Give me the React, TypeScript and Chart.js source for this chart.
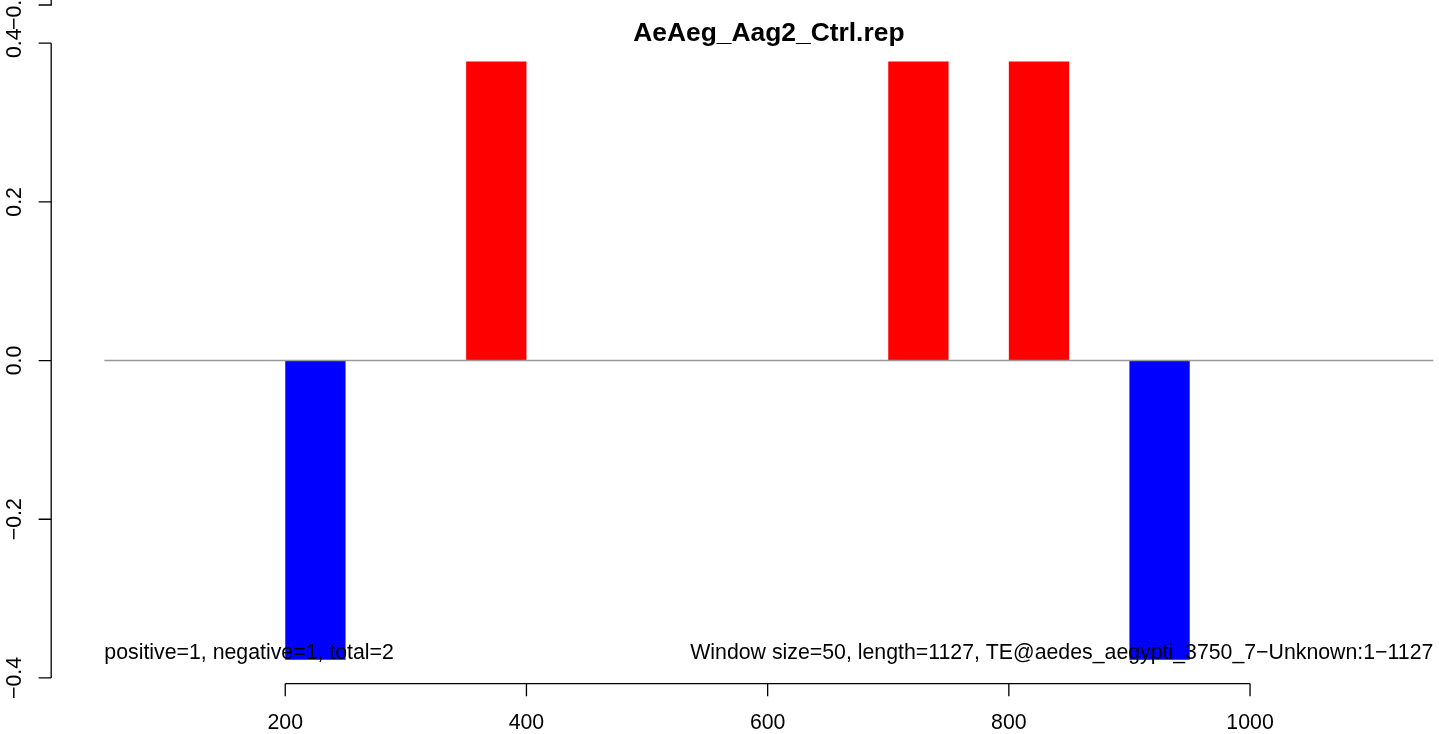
import React, { useEffect, useRef } from "react";
import { Chart, registerables } from "chart.js";

Chart.register(...registerables);

// ---------------- data ----------------
const TITLE = "AeAeg_Aag2_Ctrl.rep";
const WINDOW_SIZE = 50;
const windowStarts = [0, 50, 100, 150, 200, 250, 300, 350, 400, 450, 500, 550, 600, 650, 700, 750, 800, 850, 900, 950, 1000, 1050, 1100];
const windowValues = [0, 0, 0, 0, -0.377, 0, 0, 0.377, 0, 0, 0, 0, 0, 0, 0.377, 0, 0.377, 0, -0.377, 0, 0, 0, 0];
const baselineRange = [50, 1152];
const xTickValues = [200, 400, 600, 800, 1000];
const xTickLabels = ["200", "400", "600", "800", "1000"];
const yTickValues = [-0.4, -0.2, 0, 0.2, 0.4];
const yTickLabels = ["\u22120.4", "\u22120.2", "0.0", "0.2", "0.4"];
const leftNote = "positive=1, negative=1, total=2";
const rightNote = "Window size=50, length=1127, TE@aedes_aegypti_3750_7\u2212Unknown:1\u22121127";
const xLimits = [50, 1152];
const yMaxAbs = 0.377;

// ---------------- styling ----------------
const FONT = '"Liberation Sans", Arial, Helvetica, sans-serif';
const CANVAS_W = 1530;
const CANVAS_H = 734;
const POS_COLOR = "#ff0000";
const NEG_COLOR = "#0000ff";

const xExt = (xLimits[1] - xLimits[0]) * 0.04;
const X_MIN = xLimits[0] - xExt;
const X_MAX = xLimits[1] + xExt;
const Y_MIN = -yMaxAbs * 1.08;
const Y_MAX = yMaxAbs * 1.08;

const rPlotPlugin = {
  id: "rPlot",
  afterDraw(chart: any) {
    const { ctx, chartArea } = chart;
    const xs = chart.scales.x;
    const ys = chart.scales.y;
    const tick = 12.6;
    ctx.save();
    ctx.fillStyle = "#000";
    ctx.strokeStyle = "#000";
    ctx.lineWidth = 1.3;
    ctx.lineCap = "butt";

    // title
    ctx.font = `bold 26.4px ${FONT}`;
    ctx.textAlign = "center";
    ctx.textBaseline = "alphabetic";
    ctx.fillText(TITLE, (chartArea.left + chartArea.right) / 2, 40.5);

    // x axis
    const ay = chartArea.bottom;
    const xt = xs.ticks;
    ctx.beginPath();
    ctx.moveTo(xs.getPixelForTick(0), ay);
    ctx.lineTo(xs.getPixelForTick(xt.length - 1), ay);
    for (let i = 0; i < xt.length; i++) {
      const px = xs.getPixelForTick(i);
      ctx.moveTo(px, ay);
      ctx.lineTo(px, ay + tick);
    }
    ctx.stroke();
    ctx.font = `21.3px ${FONT}`;
    ctx.textAlign = "center";
    for (let i = 0; i < xt.length; i++) {
      ctx.fillText(xTickLabels[i], xs.getPixelForTick(i), 728.5);
    }

    // y axis
    const ax = chartArea.left;
    const yt = ys.ticks;
    ctx.beginPath();
    ctx.moveTo(ax, ys.getPixelForTick(0));
    ctx.lineTo(ax, ys.getPixelForTick(yt.length - 1));
    for (let i = 0; i < yt.length; i++) {
      const py = ys.getPixelForTick(i);
      ctx.moveTo(ax, py);
      ctx.lineTo(ax - tick, py);
    }
    // remnant of the neighbouring panel's axis above
    ctx.moveTo(ax, 0);
    ctx.lineTo(ax, 5);
    ctx.lineTo(ax - tick, 5);
    ctx.stroke();
    for (let i = 0; i < yt.length; i++) {
      ctx.save();
      ctx.translate(21, ys.getPixelForTick(i));
      ctx.rotate(-Math.PI / 2);
      ctx.textAlign = "center";
      ctx.fillText(yTickLabels[i], 0, 0);
      ctx.restore();
    }
    ctx.save();
    ctx.translate(21, 30);
    ctx.rotate(-Math.PI / 2);
    ctx.textAlign = "left";
    ctx.fillText(yTickLabels[0], 0, 0);
    ctx.restore();

    // notes
    const ny = ys.getPixelForValue(-yMaxAbs) - 0.5;
    ctx.textAlign = "left";
    ctx.fillText(leftNote, xs.getPixelForValue(xLimits[0]), ny);
    ctx.textAlign = "right";
    ctx.fillText(rightNote, xs.getPixelForValue(xLimits[1]), ny);

    ctx.restore();
  },
};

export default function App() {
  const ref = useRef<HTMLCanvasElement>(null);
  useEffect(() => {
    const canvas = ref.current!;
    const chart = new Chart(canvas, {
      type: "bar",
      data: {
        datasets: [
          {
            type: "line",
            label: "baseline",
            data: baselineRange.map((x) => ({ x, y: 0 })),
            borderColor: "#999999",
            borderWidth: 1.5,
            pointRadius: 0,
            order: 0,
          } as any,
          {
            type: "bar",
            label: "windows",
            data: windowStarts.map((s, i) => ({
              x: s + WINDOW_SIZE / 2,
              y: windowValues[i] === 0 ? null : windowValues[i],
            })),
            backgroundColor: windowValues.map((v) => (v > 0 ? POS_COLOR : NEG_COLOR)),
            borderWidth: 0,
            barPercentage: 1,
            categoryPercentage: 1,
            inflateAmount: 0,
            order: 1,
          } as any,
        ],
      },
      options: {
        responsive: false,
        animation: false,
        devicePixelRatio: 1,
        events: [],
        layout: {
          padding: { left: 51.2, top: 37.5, right: CANVAS_W - 1486.5, bottom: CANVAS_H - 683.6 },
        },
        plugins: {
          legend: { display: false },
          tooltip: { enabled: false },
          title: { display: false },
        },
        scales: {
          x: {
            type: "linear",
            min: X_MIN,
            max: X_MAX,
            offset: false,
            display: false,
            afterBuildTicks: (scale: any) => {
              scale.ticks = xTickValues.map((value) => ({ value }));
            },
          },
          y: {
            type: "linear",
            min: Y_MIN,
            max: Y_MAX,
            display: false,
            afterBuildTicks: (scale: any) => {
              scale.ticks = yTickValues.map((value) => ({ value }));
            },
          },
        },
      } as any,
      plugins: [rPlotPlugin],
    });
    return () => chart.destroy();
  }, []);

  return (
    <div
      style={{
        position: "fixed",
        left: 0,
        top: 0,
        width: 1439,
        height: CANVAS_H,
        overflow: "hidden",
        background: "#ffffff",
      }}
    >
      <canvas
        ref={ref}
        width={CANVAS_W}
        height={CANVAS_H}
        style={{ display: "block", width: CANVAS_W, height: CANVAS_H }}
      />
    </div>
  );
}
